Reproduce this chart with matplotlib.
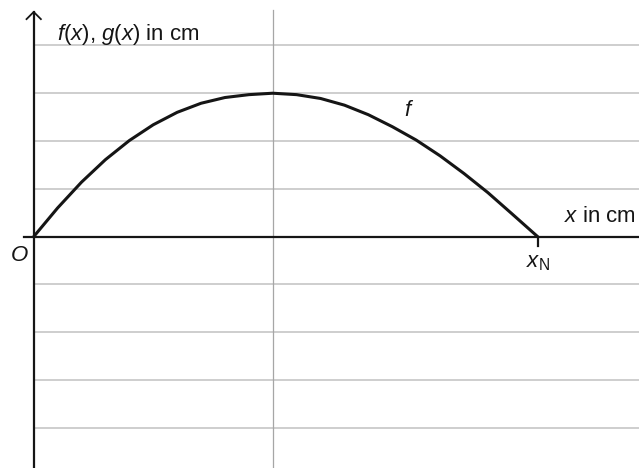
import matplotlib
matplotlib.use("Agg")
import matplotlib.pyplot as plt

plt.rcParams['font.family'] = ['Liberation Sans', 'DejaVu Sans']
plt.rcParams['mathtext.fontset'] = 'custom'
plt.rcParams['mathtext.it'] = 'Liberation Sans:italic'
plt.rcParams['mathtext.rm'] = 'Liberation Sans'

# curve f (one grid square = 1 unit)
f_x = [0, 0.5, 1.0, 1.5, 2.0, 2.5, 3.0, 3.5, 4.0, 4.5, 5.0,
       5.5, 6.0, 6.5, 7.0, 7.5, 8.0, 8.5, 9.0, 9.5, 10.0, 10.54]
f_y = [0, 0.60, 1.14, 1.61, 2.01, 2.34, 2.60, 2.79, 2.91, 2.97, 3.0,
       2.97, 2.89, 2.75, 2.55, 2.30, 2.02, 1.69, 1.32, 0.92, 0.48, 0]

grid_y = [4, 3, 2, 1, -1, -2, -3, -4]
grid_x = [5]
x_n = 10.54

xmin, xmax = -0.705, 12.66
ymin, ymax = -4.84, 4.95

fig = plt.figure(figsize=(6.39, 4.68), dpi=100)
ax = fig.add_axes([0, 0, 1, 1])
ax.set_xlim(xmin, xmax)
ax.set_ylim(ymin, ymax)
ax.axis('off')

ink = '#151515'

# grid
for gy in grid_y:
    ax.plot([0, xmax], [gy, gy], color='#c6c6c6', lw=1.2, zorder=1)
for gx in grid_x:
    ax.plot([gx, gx], [ymin, 4.75], color='#a6a6a6', lw=0.9, zorder=1)

# axes
ax.plot([-0.2, xmax], [0, 0], color=ink, lw=1.6, zorder=3)
ax.plot([0, 0], [ymin, 4.70], color=ink, lw=1.6, zorder=3)
# open arrow head on y axis
ax.plot([-0.15, 0, 0.15], [4.55, 4.70, 4.55], color=ink, lw=1.3, zorder=3)
# tick at x_N
ax.plot([x_n, x_n], [0, -0.2], color=ink, lw=1.6, zorder=3)

# curve
ax.plot(f_x, f_y, color=ink, lw=2.2, zorder=4, solid_capstyle='round',
        solid_joinstyle='round')

fs = 16
ax.text(0.49, 4.11, r"$f$($x$), $g$($x$) in cm", fontsize=fs, color=ink,
        ha='left', va='baseline')
ax.text(12.6, 0.31, r"$x$ in cm", fontsize=fs, color=ink, ha='right',
        va='baseline')
ax.text(-0.29, -0.39, r"$O$", fontsize=fs, color=ink, ha='center',
        va='center')
ax.text(x_n, -0.33, r"$x_{\mathrm{N}}$", fontsize=fs, color=ink,
        ha='center', va='top')
ax.text(7.85, 2.63, r"$f$", fontsize=fs, color=ink, ha='center',
        va='center')

fig.savefig("out.png", dpi=100)
